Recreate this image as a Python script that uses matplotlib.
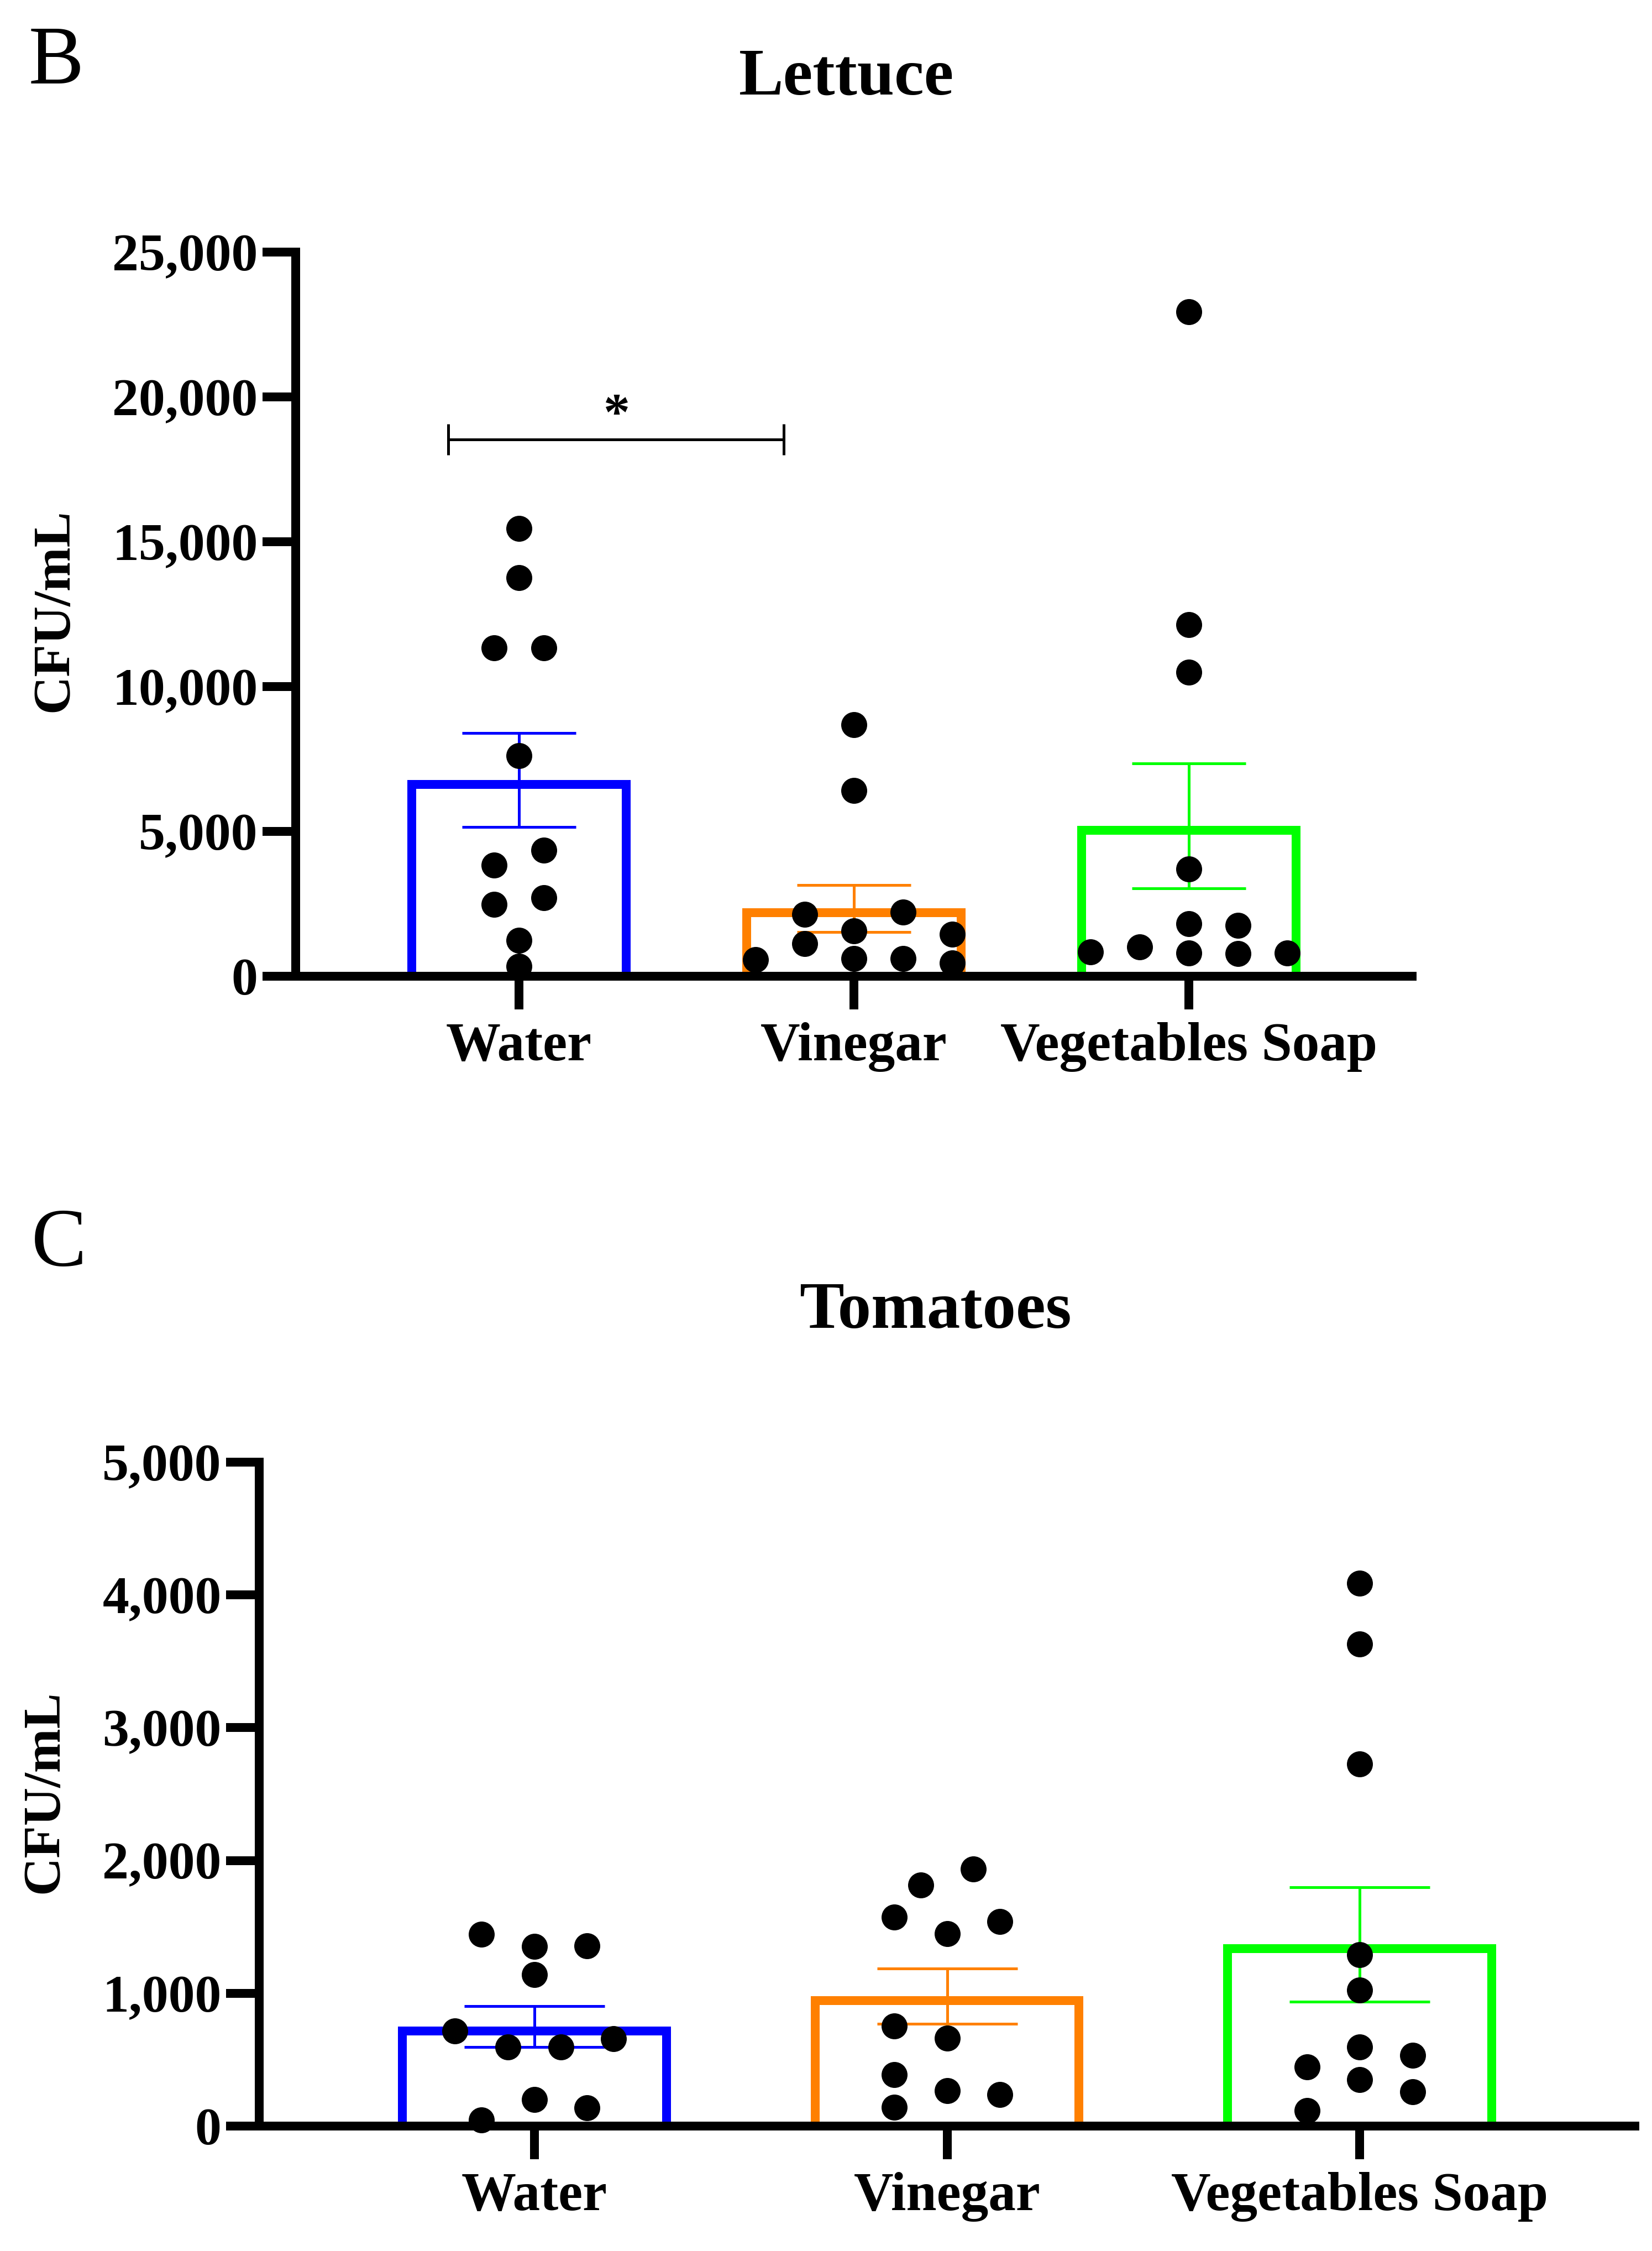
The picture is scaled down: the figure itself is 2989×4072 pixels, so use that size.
import numpy as np
import matplotlib
matplotlib.use("Agg")
import matplotlib.pyplot as plt

plt.rcParams['font.family'] = ['Liberation Serif', 'DejaVu Serif']

groups = ["Water", "Vinegar", "Vegetables Soap"]
colors = ["#0000FF", "#FF8000", "#00FF00"]

# panel B - lettuce, CFU/mL per sample
lettuce_water = [15460, 13760, 11340, 11340, 7615, 4350, 3840, 2710, 2480, 1240, 340]
lettuce_vinegar = [8680, 6410, 2140, 2210, 1560, 1120, 1450, 570, 610, 610, 460]
lettuce_soap = [22930, 12130, 10500, 3700, 1810, 1760, 1010, 800, 780, 800, 840]
lettuce_yticks = [0, 5000, 10000, 15000, 20000, 25000]

# panel C - tomatoes, CFU/mL per sample
tomato_water = [1446, 1354, 1358, 1142, 717, 596, 596, 658, 200, 138, 46]
tomato_vinegar = [1936, 1815, 1574, 1449, 1541, 754, 662, 387, 266, 237, 142]
tomato_soap = [4088, 3629, 2725, 1292, 1025, 596, 533, 446, 350, 258, 117]
tomato_yticks = [0, 1000, 2000, 3000, 4000, 5000]

# horizontal scatter slots of the dots (multiples of a panel step)
lettuce_slots = [
    [0, 0, -1, 1, 0, 1, -1, 1, -1, 0, 0],
    [0, 0, -2, 2, 0, -2, 4, -4, 0, 2, 4],
    [0, 0, 0, 0, 0, 2, -2, 0, 2, 4, -4],
]
tomato_slots = [
    [-2, 0, 2, 0, -3, -1, 1, 3, 0, 2, -2],
    [1, -1, -2, 0, 2, -2, 0, -2, 0, 2, -2],
    [0, 0, 0, 0, 0, 0, 2, -2, 0, 2, -2],
]

W, H, DPI = 2989, 4072, 300
px = 72.0 / DPI  # one pixel in points
BAR_LW = 16  # px


def draw_panel(ax, data, slots, step, yticks, capsize, ax_h_px):
    # prism draws the bar outline inside the bar, so pull the edge down by half its width
    half_edge = (BAR_LW / 2) * (yticks[-1] - yticks[0]) / ax_h_px
    for i, (vals, sl) in enumerate(zip(data, slots)):
        v = np.array(vals, dtype=float)
        mean = v.mean()
        sem = v.std(ddof=1) / np.sqrt(len(v))
        ax.bar(i, mean - half_edge, width=0.64, facecolor="white", edgecolor=colors[i],
               linewidth=BAR_LW * px, zorder=2)
        ax.errorbar(i, mean, yerr=sem, fmt="none", ecolor=colors[i],
                    elinewidth=5 * px, capsize=capsize, capthick=5 * px, zorder=3)
        ax.scatter(i + np.array(sl) * step, v, s=(47 * px) ** 2, color="black",
                   linewidths=0, zorder=5, clip_on=False)

    ax.set_xlim(-2 / 3, 8 / 3)
    ax.set_ylim(yticks[0], yticks[-1])
    ax.set_xticks(range(len(groups)))
    ax.set_xticklabels(groups, fontsize=23.8, fontweight="bold")
    ax.set_yticks(yticks)
    ax.set_yticklabels([f"{t:,}" for t in yticks], fontsize=23, fontweight="bold")
    for s in ["top", "right"]:
        ax.spines[s].set_visible(False)
    for s in ["left", "bottom"]:
        ax.spines[s].set_linewidth(16 * px)
        ax.spines[s].set_zorder(4)
    ax.tick_params(axis="both", direction="out", length=60 * px, width=16 * px)
    ax.tick_params(axis="y", pad=2)
    ax.tick_params(axis="x", pad=5.5)


fig = plt.figure(figsize=(W / DPI, H / DPI), dpi=DPI)

ax1 = fig.add_axes([535 / W, 1 - 1766 / H, 2020 / W, 1310 / H])
draw_panel(ax1, [lettuce_water, lettuce_vinegar, lettuce_soap], lettuce_slots,
           0.0735, lettuce_yticks, 103 * px, 1310)

# significance bracket Water vs Vinegar
ax1.plot([-0.212, 0.79], [18530, 18530], color="black", lw=5 * px, zorder=3)
ax1.vlines([-0.212, 0.79], 18530 - 534, 18530 + 534, color="black", lw=5 * px, zorder=3)
ax1.text(0.291, 18870, "*", fontsize=23, fontweight="bold", ha="center", va="baseline")

ax2 = fig.add_axes([469 / W, 1 - 3846 / H, 2489 / W, 1201 / H])
draw_panel(ax2, [tomato_water, tomato_vinegar, tomato_soap], tomato_slots,
           0.064, tomato_yticks, 127 * px, 1201)

fig.text(52 / W, 1 - 151 / H, "B", fontsize=36, ha="left", va="baseline")
fig.text(57 / W, 1 - 2290 / H, "C", fontsize=36, ha="left", va="baseline")
fig.text(1532 / W, 1 - 171 / H, "Lettuce", fontsize=29, fontweight="bold",
         ha="center", va="baseline")
fig.text(1692 / W, 1 - 2402 / H, "Tomatoes", fontsize=29, fontweight="bold",
         ha="center", va="baseline")
fig.text(99 / W, 1 - 1104 / H, "CFU/mL", fontsize=23, fontweight="bold",
         rotation=90, ha="center", va="center")
fig.text(81 / W, 1 - 3241 / H, "CFU/mL", fontsize=23, fontweight="bold",
         rotation=90, ha="center", va="center")

fig.savefig("out.png", dpi=DPI, facecolor="white")
